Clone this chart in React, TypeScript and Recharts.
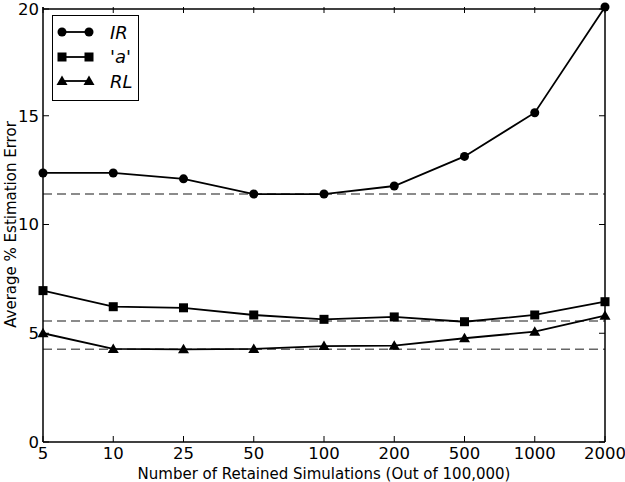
import React from 'react';
import {
  LineChart,
  Line,
  XAxis,
  YAxis,
  ReferenceLine,
} from 'recharts';

// Number of retained simulations (out of 100,000)
const retained = ['5', '10', '25', '50', '100', '200', '500', '1000', '2000'];
const irError = [12.37, 12.37, 12.1, 11.4, 11.4, 11.77, 13.13, 15.14, 20.0];
const aError = [6.96, 6.22, 6.17, 5.84, 5.64, 5.75, 5.53, 5.84, 6.45];
const rlError = [5.0, 4.28, 4.26, 4.28, 4.41, 4.43, 4.77, 5.07, 5.81];
// dashed reference levels (IR, 'a', RL)
const baselines = [11.4, 5.56, 4.26];
const yTicks = [0, 5, 10, 15, 20];

const data = retained.map((n, i) => ({
  n,
  ir: irError[i],
  a: aError[i],
  rl: rlError[i],
}));

const FONT = 'DejaVu Sans, sans-serif';
const W = 625;
const H = 482;
const MARGIN = { top: 7, right: 20, bottom: 0, left: 0 };
const PLOT_TOP = MARGIN.top;
const PLOT_RIGHT = W - MARGIN.right;
const TICK = 6;

const Square = (props: any) => {
  const { cx, cy, index } = props;
  if (cx == null || cy == null) return <g key={`s-${index}`} />;
  return <rect key={`s-${index}`} x={cx - 4.5} y={cy - 4.5} width={9} height={9} fill="#000" />;
};

const Triangle = (props: any) => {
  const { cx, cy, index } = props;
  if (cx == null || cy == null) return <g key={`t-${index}`} />;
  return (
    <polygon
      key={`t-${index}`}
      points={`${cx},${cy - 5.5} ${cx - 5.5},${cy + 4} ${cx + 5.5},${cy + 4}`}
      fill="#000"
    />
  );
};

// x tick: inward ticks at bottom and top, label below; last one closes the right edge
const XTick = (props: any) => {
  const { x, y, payload, index } = props;
  const last = index === retained.length - 1;
  return (
    <g>
      <line x1={x} y1={y} x2={x} y2={y - TICK} stroke="#000" />
      <line x1={x} y1={PLOT_TOP} x2={x} y2={PLOT_TOP + TICK} stroke="#000" />
      {last && <line x1={x} y1={PLOT_TOP} x2={x} y2={y} stroke="#000" strokeWidth={1.5} />}
      <text x={x} y={y + 5} dy="0.71em" textAnchor="middle" fill="#000" fontSize={16.5} fontFamily={FONT}>
        {payload.value}
      </text>
    </g>
  );
};

// y tick: inward ticks at left and right, label on the left; top one closes the top edge
const YTick = (props: any) => {
  const { x, y, payload } = props;
  const top = payload.value === yTicks[yTicks.length - 1];
  return (
    <g>
      <line x1={x} y1={y} x2={x + TICK} y2={y} stroke="#000" />
      <line x1={PLOT_RIGHT - TICK} y1={y} x2={PLOT_RIGHT} y2={y} stroke="#000" />
      {top && <line x1={x} y1={y} x2={PLOT_RIGHT} y2={y} stroke="#000" strokeWidth={1.5} />}
      <text x={x - 4} y={y} dy="0.355em" textAnchor="end" fill="#000" fontSize={16.5} fontFamily={FONT}>
        {payload.value}
      </text>
    </g>
  );
};

const legendItems = [
  { label: 'IR', marker: 'circle' },
  { label: "'a'", marker: 'square' },
  { label: 'RL', marker: 'triangle' },
];

const marker = (kind: string, x: number, y: number) => {
  if (kind === 'circle') return <circle cx={x} cy={y} r={4.5} fill="#000" />;
  if (kind === 'square') return <rect x={x - 4.5} y={y - 4.5} width={9} height={9} fill="#000" />;
  return <polygon points={`${x},${y - 5.5} ${x - 5.5},${y + 4} ${x + 5.5},${y + 4}`} fill="#000" />;
};

const LegendBox = () => (
  <div
    style={{
      position: 'absolute',
      left: 52,
      top: 15,
      border: '1.5px solid #000',
      background: '#fff',
      width: 87,
      padding: '4px 0',
      fontFamily: FONT,
      boxSizing: 'border-box',
      height: 86,
    }}
  >
    {legendItems.map((it) => (
      <div key={it.label} style={{ display: 'flex', alignItems: 'center', height: 24.5 }}>
        <svg width={44} height={20}>
          <line x1={9} y1={10} x2={36} y2={10} stroke="#000" strokeWidth={1.8} />
          {marker(it.marker, 9, 10)}
          {marker(it.marker, 36, 10)}
        </svg>
        <span style={{ fontStyle: 'italic', fontSize: 18, marginLeft: 13 }}>{it.label}</span>
      </div>
    ))}
  </div>
);

export default function App() {
  return (
    <div style={{ position: 'absolute', left: 0, top: 0, width: W, height: H, background: '#fff' }}>
      <LineChart width={W} height={H} data={data} margin={MARGIN}>
        <XAxis
          dataKey="n"
          height={40}
          tickSize={0}
          tickMargin={0}
          tickLine={false}
          axisLine={{ stroke: '#000', strokeWidth: 1.5 }}
          tick={<XTick />}
          interval={0}
          label={{
            value: 'Number of Retained Simulations (Out of 100,000)',
            position: 'insideBottom',
            offset: 3,
            fill: '#000',
            fontSize: 15,
            fontFamily: FONT,
          }}
        />
        <YAxis
          domain={[0, 20]}
          ticks={yTicks}
          width={43}
          tickSize={0}
          tickMargin={0}
          tickLine={false}
          axisLine={{ stroke: '#000', strokeWidth: 1.5 }}
          tick={<YTick />}
          label={{
            value: 'Average % Estimation Error',
            angle: -90,
            position: 'center',
            dx: -11,
            fill: '#000',
            fontSize: 15,
            fontFamily: FONT,
          }}
        />
        {baselines.map((b) => (
          <ReferenceLine key={b} y={b} stroke="#666" strokeWidth={1.5} strokeDasharray="9 5" />
        ))}
        <Line
          dataKey="ir"
          stroke="#000"
          strokeWidth={1.8}
          dot={{ r: 4.5, fill: '#000', stroke: '#000', strokeWidth: 0 }}
          isAnimationActive={false}
        />
        <Line dataKey="a" stroke="#000" strokeWidth={1.8} dot={Square} isAnimationActive={false} />
        <Line dataKey="rl" stroke="#000" strokeWidth={1.8} dot={Triangle} isAnimationActive={false} />
      </LineChart>
      <LegendBox />
    </div>
  );
}
